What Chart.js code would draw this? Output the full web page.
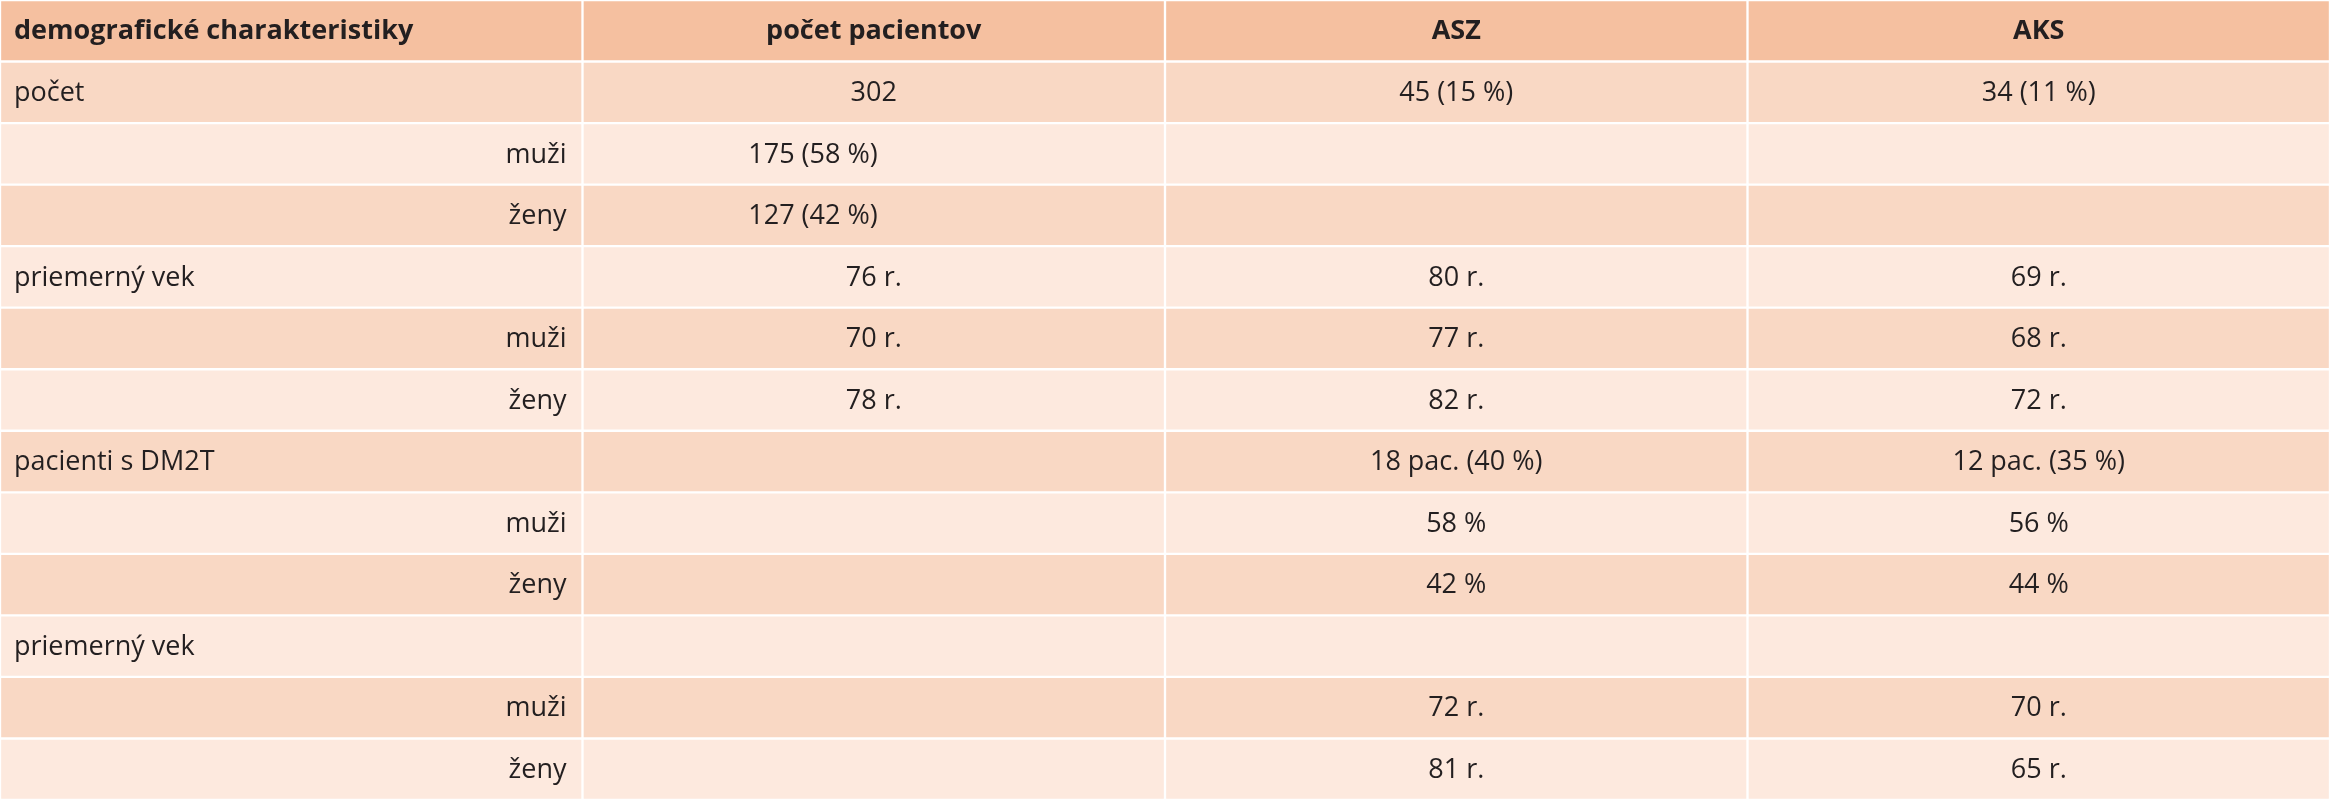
<!DOCTYPE html>
<html><head><meta charset="utf-8">
<script src="https://cdn.jsdelivr.net/npm/chart.js@4/dist/chart.umd.min.js"></script>
<style>html,body{margin:0;padding:0;background:#fff}canvas{display:block}</style>
</head><body><canvas id="c" width="2330" height="800"></canvas>
<script>
const headers = ["demografické charakteristiky", "počet pacientov", "ASZ", "AKS"];
const rowLabels = ["počet","muži","ženy","priemerný vek","muži","ženy","pacienti s DM2T","muži","ženy","priemerný vek","muži","ženy"];
const rowIndent = [false,true,true,false,true,true,false,true,true,false,true,true];
const pocetPacientov = ["302","175 (58 %)","127 (42 %)","76 r.","70 r.","78 r.","","","","","",""];
const aszValues = ["45 (15 %)","","","80 r.","77 r.","82 r.","18 pac. (40 %)","58 %","42 %","","72 r.","81 r."];
const aksValues = ["34 (11 %)","","","69 r.","68 r.","72 r.","12 pac. (35 %)","56 %","44 %","","70 r.","65 r."];

const cats = ["h"].concat(rowLabels.map((_, i) => "r" + i));
const HEAD = "#f5c0a0", DARK = "#f9d8c4", LIGHT = "#fde9de";
const rowColor = cats.map((_, i) => i === 0 ? HEAD : (i % 2 === 1 ? DARK : LIGHT));
const columns = [rowLabels, pocetPacientov, aszValues, aksValues];

const datasets = columns.map((col, c) => ({
  data: cats.map(() => [c, c + 1]),
  backgroundColor: rowColor,
  borderColor: "#ffffff",
  borderWidth: 1.5,
  borderSkipped: false,
  categoryPercentage: 1, barPercentage: 1
}));

const textPlugin = {
  id: "cellText",
  afterDatasetsDraw(chart) {
    const ctx = chart.ctx, x = chart.scales.x, y = chart.scales.y;
    ctx.save();
    ctx.fillStyle = "#231f20";
    ctx.textBaseline = "middle";
    cats.forEach((_, r) => {
      const yy = y.getPixelForValue(r);
      for (let c = 0; c < 4; c++) {
        const x0 = x.getPixelForValue(c), x1 = x.getPixelForValue(c + 1), xm = (x0 + x1) / 2;
        let txt, align = "center", px = xm;
        if (r === 0) {
          txt = headers[c];
          ctx.font = "bold 27px 'Liberation Sans Narrow', 'Open Sans', sans-serif";
          if (c === 0) { align = "left"; px = x0 + 14; }
        } else {
          txt = columns[c][r - 1];
          ctx.font = "27px 'Liberation Sans Narrow', 'Open Sans', sans-serif";
          if (c === 0) {
            if (rowIndent[r - 1]) { align = "right"; px = x1 - 16; }
            else { align = "left"; px = x0 + 14; }
          } else if (c === 1 && (r === 2 || r === 3)) { align = "right"; px = xm + 4; }
        }
        ctx.textAlign = align;
        ctx.fillText(txt, px, yy + 1);
      }
    });
    ctx.restore();
  }
};

new Chart(document.getElementById("c"), {
  type: "bar",
  data: { labels: cats, datasets },
  options: {
    indexAxis: "y", responsive: false, animation: false, devicePixelRatio: 1,
    layout: { padding: 0 },
    plugins: { legend: { display: false }, tooltip: { enabled: false } },
    scales: {
      x: { type: "linear", min: 0, max: 4, display: false },
      y: { type: "category", stacked: true, display: false, offset: true }
    }
  },
  plugins: [textPlugin]
});
</script></body></html>
